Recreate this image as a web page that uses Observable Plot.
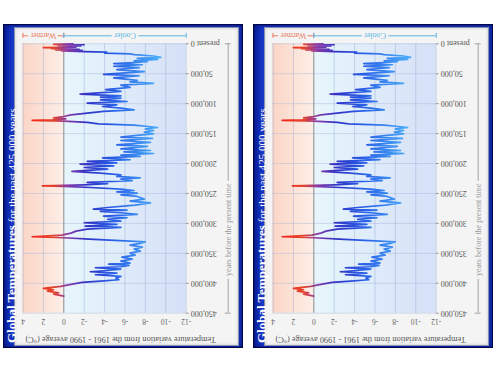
<!DOCTYPE html>
<html><head><meta charset="utf-8">
<script src="https://cdn.jsdelivr.net/npm/d3@7"></script>
<script src="https://cdn.jsdelivr.net/npm/@observablehq/plot@0.6"></script>
<style>
html,body{margin:0;padding:0;background:#fff;width:500px;height:375px;overflow:hidden;}
.frame{position:absolute;top:24px;width:240px;height:324px;background:linear-gradient(90deg,#0a1f98 0%,#1636c6 4%,#1434bc 100%);box-shadow:inset 0 0 0 1px #00064a, inset 0 0 4px 1px #000a66;}
.inner{position:absolute;left:12px;top:4px;width:223px;height:317px;background:#f4f4f4;box-shadow:0 0 0 1px #8890b0, inset 0 0 3px #c4c4c8;}
.title{position:absolute;left:1px;top:319px;transform:rotate(-90deg);transform-origin:0 0;white-space:nowrap;color:#fff;font-family:"Liberation Serif",serif;line-height:13px;}
.title b{font-size:13px;font-weight:bold;} .title span{font-size:11px;}
svg.chart{position:absolute;left:0;top:0;}
</style></head><body>
<script>
// ---- data (years before present, °C anomaly) ----
const years = [
  0,800,1600,2500,3400,4400,5400,6500,7300,8200,
  9100,10000,11000,12000,13000,14000,15500,16800,18000,20400,
  22700,24400,26000,28400,30000,33000,35000,37500,39800,43000,
  46600,51000,53400,57000,61000,63600,66000,69000,72700,76700,
  79500,84000,87000,89000,90800,93600,96400,99100,101900,104700,
  107500,110300,113000,115800,118600,121400,123600,125300,127000,128000,
  129200,131400,133600,135900,138100,139800,142000,144800,147600,150400,
  153000,156000,158000,161500,164800,168700,171500,175400,178200,180600,
  183200,186000,188200,190400,193700,196500,198800,201000,203800,206600,
  209300,213200,216000,218800,221600,223800,226000,228800,231600,233800,
  235500,237200,238300,240000,242700,245000,247200,249400,252200,255000,
  259400,262800,265600,269500,273400,276100,277800,280000,282200,285000,
  287800,290600,293400,296200,298900,301700,304500,306700,309500,312900,
  316200,319500,322300,324000,326200,330700,333500,336200,339600,342900,
  346300,349600,352900,356300,359600,363000,366300,368000,370200,372400,
  374100,376300,379100,380800,383000,385800,388600,391400,394100,396400,
  398600,401900,405300,408600,410800,413000,415900,418100,421400
];
const temps = [
  -0.9,1.0,-2.0,0.6,-1.7,0.3,-1.2,2.0,-0.3,1.2,
  -1.5,0.8,-1.8,0.2,-2.0,-4.2,-4.0,-6.5,-6.9,-8.8,
  -9.5,-7.2,-9.2,-6.9,-8.2,-4.9,-7.7,-4.9,-7.4,-5.2,
  -7.9,-3.9,-7.4,-4.9,-7.2,-6.5,-8.8,-5.6,-6.5,-4.1,
  -5.6,-1.6,-5.6,-3.6,-5.6,-3.6,-6.2,-2.3,-5.2,-3.8,
  -5.6,-6.9,-3.9,-2.3,-0.7,0.0,1.0,-0.2,1.1,3.1,
  0.0,-2.3,-3.4,-6.9,-8.3,-9.2,-8.0,-8.8,-7.9,-8.8,
  -7.2,-5.6,-8.7,-5.6,-8.5,-5.2,-8.2,-5.6,-8.5,-5.9,
  -8.8,-5.6,-7.5,-3.8,-6.5,-2.3,-5.2,-1.6,-4.9,-2.0,
  -4.3,-0.8,-3.6,-5.6,-5.2,-7.5,-5.6,-6.7,-2.3,-4.3,
  -2.0,2.1,0.0,-2.6,-5.6,-6.9,-5.2,-7.2,-5.6,-7.2,
  -7.9,-6.5,-8.5,-7.0,-4.3,-2.9,-6.2,-3.6,-5.6,-7.2,
  -3.9,-6.2,-4.3,-5.6,-2.0,-5.2,-2.1,-5.6,-2.3,-1.2,
  -0.7,0.2,3.1,0.0,-2.5,-8.0,-7.5,-6.5,-7.7,-6.9,
  -7.5,-6.5,-7.0,-5.7,-6.7,-5.6,-6.5,-4.4,-6.4,-5.6,
  -3.1,-5.6,-3.9,-2.6,-5.2,-3.1,-5.6,-5.1,-5.4,-3.6,
  -1.8,-0.7,0.3,2.0,1.0,1.6,0.5,1.0,0.0
];
const tempTicks = [4,2,0,-2,-4,-6,-8,-10,-12];
const yearTicks = [0,50000,100000,150000,200000,250000,300000,350000,400000,450000];
const yearLabels = ["present 0","50,000","100,000","150,000","200,000","250,000","300,000","350,000","400,000","450,000"];
const zoneNames = ["Warmer","Cooler"];
const zoneFrom = [4,0];
const zoneTo = [0,-12];
const titleMain = "Global Temperatures";
const titleSub = "for the past 425,000 years";
const axisTitle = "Temperature variation from the 1961 - 1990 average (°C)";
const axisYears = "years before the present time";

// line colour follows the temperature (horizontal position)
const colorDomain = [3, 1, -0.3, -2.3, -5, -9];
const colorRange = ["#f3261a", "#e5432a", "#8c3aa6", "#2f34c8", "#2a62e8", "#48a8f7"];
const zoneColors = ["#ec7a64", "#5ab4e4"];
const panelBg = "#f4f4f4";

function makeChart(id, left) {
  const frame = document.createElement("div");
  frame.className = "frame";
  frame.style.left = left + "px";
  const inner = document.createElement("div");
  inner.className = "inner";
  frame.appendChild(inner);
  const title = document.createElement("div");
  title.className = "title";
  const b = document.createElement("b"); b.textContent = titleMain;
  const s = document.createElement("span"); s.textContent = " " + titleSub;
  title.appendChild(b); title.appendChild(s);
  frame.appendChild(title);

  const y0 = yearTicks[0], yN = yearTicks[yearTicks.length - 1];
  const xR = tempTicks[tempTicks.length - 1];
  const marks = [
    Plot.rect([0], {x1: () => zoneFrom[0], x2: () => zoneTo[0], y1: () => y0, y2: () => yN, fill: `url(#warm${id})`}),
    Plot.rect([0], {x1: () => zoneFrom[1], x2: () => zoneTo[1], y1: () => y0, y2: () => yN, fill: `url(#cool${id})`}),
    Plot.ruleY(yearTicks, {stroke: "#9db0d6", strokeOpacity: 0.5, strokeWidth: 0.8}),
    Plot.ruleX(tempTicks.filter(d => d !== 0), {stroke: "#8da3cf", strokeOpacity: 0.5, strokeWidth: 0.8}),
    Plot.ruleX([0], {stroke: "#8a8a8a", strokeWidth: 1}),
    Plot.line(years, {x: (d, i) => temps[i], y: d => d, stroke: `url(#line${id})`, strokeWidth: 1.7, strokeLinejoin: "round"}),
    // temperature tick labels (upside down)
    Plot.text(tempTicks, {x: d => d, frameAnchor: "bottom", dy: 6, rotate: 180, text: d => String(d), fontSize: 7.5, fill: "#666"}),
    Plot.text([axisTitle], {frameAnchor: "bottom", dx: 16, dy: 24, rotate: 180, text: d => d, fontSize: 8.3, fill: "#555"}),
    // year ticks + labels
    Plot.ruleY(yearTicks, {x1: () => xR, x2: () => xR, insetRight: -3, stroke: "#999"}),
    Plot.text(yearTicks, {y: d => d, frameAnchor: "right", dx: 4.5, textAnchor: "end", rotate: 180, text: (d, i) => yearLabels[i], fontSize: 8, fill: "#555"}),
    // years axis line
    Plot.ruleX([xR], {dx: 42, y1: () => y0, y2: () => yN, stroke: "#a4a4a4"}),
    Plot.ruleY([y0, yN], {x1: () => xR, x2: () => xR, dx: 42, insetLeft: -3, insetRight: -3, stroke: "#a4a4a4"}),
    Plot.text([axisYears], {frameAnchor: "right", dx: 42, dy: 5, rotate: -90, text: d => d, fontSize: 8, fill: "#9a9a9a", stroke: panelBg, strokeWidth: 6})
  ];
  for (let i = 0; i < 2; i++) {
    marks.push(
      Plot.ruleY([y0], {x1: () => zoneFrom[i], x2: () => zoneTo[i], dy: -8, stroke: zoneColors[i], strokeWidth: 1}),
      Plot.ruleX([zoneFrom[i], zoneTo[i]], {y1: () => y0, y2: () => y0, dy: -8, insetTop: -2.5, insetBottom: -2.5, stroke: zoneColors[i]}),
      Plot.text([zoneNames[i]], {x: () => (zoneFrom[i] + zoneTo[i]) / 2, y: () => y0, dy: -8, rotate: 180, text: d => d, fontSize: 8, fill: zoneColors[i], stroke: panelBg, strokeWidth: 5})
    );
  }
  const W = 240, mL = 19.5, mR = 57.3;
  const svg = Plot.plot({
    width: W, height: 324,
    marginLeft: mL, marginRight: mR, marginTop: 19.3, marginBottom: 35.3,
    x: {domain: [4, -12], axis: null},
    y: {domain: [0, 450000], reverse: true, axis: null},
    style: {background: "transparent", fontFamily: "'Liberation Serif', serif", overflow: "visible"},
    marks
  });
  let px;
  try {
    const sx = svg.scale("x");
    px = v => sx.apply(v);
    if (!isFinite(px(0))) throw 0;
  } catch (e) {
    px = v => mL + (4 - v) / 16 * (W - mR - mL);
  }
  const NS = "http://www.w3.org/2000/svg";
  const defs = document.createElementNS(NS, "defs");
  const mk = (gid, stops, user) => {
    const g = document.createElementNS(NS, "linearGradient");
    g.setAttribute("id", gid);
    if (user) {
      g.setAttribute("gradientUnits", "userSpaceOnUse");
      g.setAttribute("x1", px(colorDomain[0])); g.setAttribute("x2", px(colorDomain[colorDomain.length - 1]));
    } else {
      g.setAttribute("x1", "0"); g.setAttribute("x2", "1");
    }
    g.setAttribute("y1", "0"); g.setAttribute("y2", "0");
    for (const [off, c] of stops) {
      const st = document.createElementNS(NS, "stop");
      st.setAttribute("offset", off); st.setAttribute("stop-color", c);
      g.appendChild(st);
    }
    defs.appendChild(g);
  };
  mk("warm" + id, [[0, "#fbd5c6"], [1, "#fdeee7"]], false);
  mk("cool" + id, [[0, "#e7f6fc"], [1, "#d6e0f7"]], false);
  const a = px(colorDomain[0]), z = px(colorDomain[colorDomain.length - 1]);
  mk("line" + id, colorDomain.map((d, i) => [(px(d) - a) / (z - a), colorRange[i]]), true);
  svg.insertBefore(defs, svg.firstChild);
  svg.classList.add("chart");
  frame.appendChild(svg);
  document.body.appendChild(frame);
}
makeChart("a", 3);
makeChart("b", 253);
</script>
</body></html>
